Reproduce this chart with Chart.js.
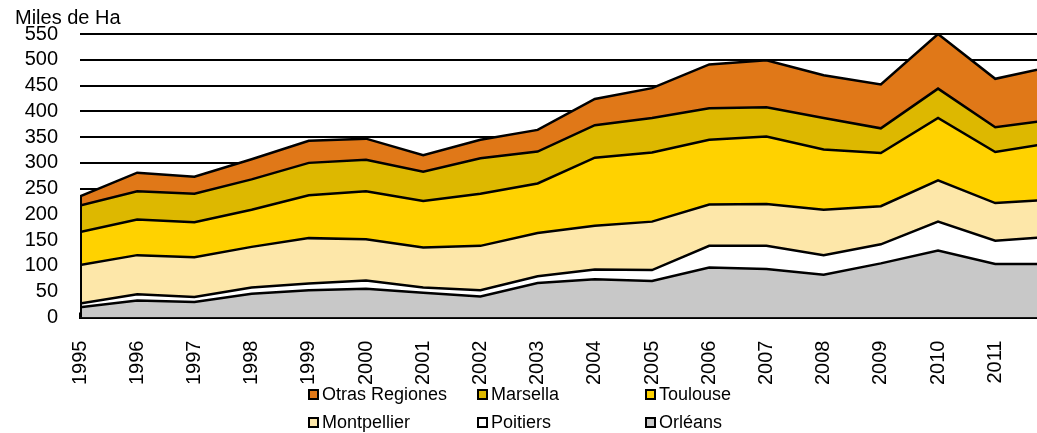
<!DOCTYPE html>
<html>
<head>
<meta charset="utf-8">
<script src="https://cdn.jsdelivr.net/npm/chart.js@4/dist/chart.umd.min.js"></script>
<style>
  html, body { margin: 0; padding: 0; background: #fff; overflow: hidden; }
  body { font-family: "Liberation Sans", Arial, sans-serif; }
  .wrap { position: relative; width: 1037px; height: 433px; }
  #areaChart { position: absolute; left: 0; top: 0; }
  .unit { position: absolute; left: 15px; top: 6px; font-size: 20px; color: #000; }
  .legend { position: absolute; left: 308px; top: 384px; display: grid;
            grid-template-columns: 169px 168px 160px; row-gap: 8px; font-size: 18px; }
  .legend-item { display: flex; align-items: center; height: 20px; white-space: nowrap; }
  .legend-box { width: 11px; height: 11px; box-sizing: border-box; border: 2px solid #000; margin-right: 3px; }
</style>
</head>
<body>
<div class="wrap">
  <canvas id="areaChart" width="1037" height="433"></canvas>
  <div class="unit">Miles de Ha</div>
  <div class="legend" id="legend"></div>
</div>
<script>
const years = [1995, 1996, 1997, 1998, 1999, 2000, 2001, 2002, 2003, 2004, 2005, 2006, 2007, 2008, 2009, 2010, 2011, 2012];

const orleans = [20, 33, 30, 46, 53, 56, 48, 41, 67, 74, 71, 97, 94, 83, 105, 130, 104, 104];
const poitiers = [7, 12, 10, 12, 13, 16, 10, 12, 13, 19, 21, 42, 45, 38, 37, 56, 45, 53];
const montpellier = [75, 76, 77, 79, 88, 80, 78, 86, 84, 85, 94, 80, 81, 88, 74, 80, 73, 72];
const toulouse = [64, 69, 68, 72, 83, 93, 90, 101, 96, 132, 134, 126, 131, 117, 103, 121, 99, 110];
const marsella = [51, 55, 55, 59, 63, 61, 57, 69, 62, 63, 67, 61, 57, 61, 48, 57, 48, 45];
const otras = [18, 36, 33, 39, 43, 41, 32, 36, 42, 51, 58, 85, 91, 83, 85, 106, 94, 103];

const yTicks = [0, 50, 100, 150, 200, 250, 300, 350, 400, 450, 500, 550];

// bottom layer first, stacked upwards
const series = [
  { label: "Orléans", values: orleans, color: "#C8C8C8" },
  { label: "Poitiers", values: poitiers, color: "#FFFFFF" },
  { label: "Montpellier", values: montpellier, color: "#FDE7A9" },
  { label: "Toulouse", values: toulouse, color: "#FFD200" },
  { label: "Marsella", values: marsella, color: "#DDB800" },
  { label: "Otras Regiones", values: otras, color: "#E07818" },
];

const datasets = series.map((s, i) => ({
  label: s.label,
  data: years.map((yr, j) => ({ x: yr, y: s.values[j] })),
  backgroundColor: s.color,
  borderColor: "#000",
  borderWidth: 2.5,
  pointRadius: 0,
  tension: 0,
  fill: i === 0 ? "origin" : "-1",
}));

// black edge on the left side of the stack
const leftEdge = {
  id: "leftEdge",
  afterDatasetsDraw(chart) {
    const top = chart.getDatasetMeta(datasets.length - 1).data[0];
    const y0 = chart.scales.y.getPixelForValue(0);
    const c = chart.ctx;
    c.save();
    c.strokeStyle = "#000";
    c.lineWidth = 2;
    c.beginPath();
    c.moveTo(top.x + 1, top.y);
    c.lineTo(top.x + 1, y0);
    c.stroke();
    c.restore();
  },
};

const chart = new Chart(document.getElementById("areaChart"), {
  type: "line",
  data: { datasets },
  options: {
    responsive: false,
    animation: false,
    layout: { padding: { top: 30, right: 0, bottom: 20, left: 0 } },
    plugins: { legend: { display: false }, tooltip: { enabled: false } },
    scales: {
      x: {
        type: "linear",
        min: years[0],
        max: 2011.73,
        afterFit: (scale) => { scale.paddingRight = 0; scale.paddingLeft = 0; },
        grid: { drawOnChartArea: false, color: "#000", lineWidth: 2, tickLength: -5 },
        border: { display: true, color: "#000", width: 2 },
        ticks: {
          stepSize: 1,
          includeBounds: false,
          autoSkip: false,
          maxRotation: 90,
          minRotation: 90,
          padding: 28,
          color: "#000",
          font: { family: "'Liberation Sans', Arial", size: 20 },
          callback: (v) => String(v),
        },
      },
      y: {
        stacked: true,
        min: 0,
        max: yTicks[yTicks.length - 1],
        afterBuildTicks: (scale) => { scale.ticks = yTicks.map((v) => ({ value: v })); },
        afterFit: (scale) => { scale.width = 80; },
        grid: { color: "#000", lineWidth: 2, drawTicks: false },
        border: { display: false },
        ticks: {
          autoSkip: false,
          padding: 22,
          color: "#000",
          font: { family: "'Liberation Sans', Arial", size: 20 },
        },
      },
    },
  },
  plugins: [leftEdge],
});

const legend = document.getElementById("legend");
chart.data.datasets.slice().reverse().forEach((ds) => {
  const item = document.createElement("div");
  item.className = "legend-item";
  const box = document.createElement("span");
  box.className = "legend-box";
  box.style.background = ds.backgroundColor;
  const text = document.createElement("span");
  text.textContent = ds.label;
  item.appendChild(box);
  item.appendChild(text);
  legend.appendChild(item);
});
</script>
</body>
</html>
